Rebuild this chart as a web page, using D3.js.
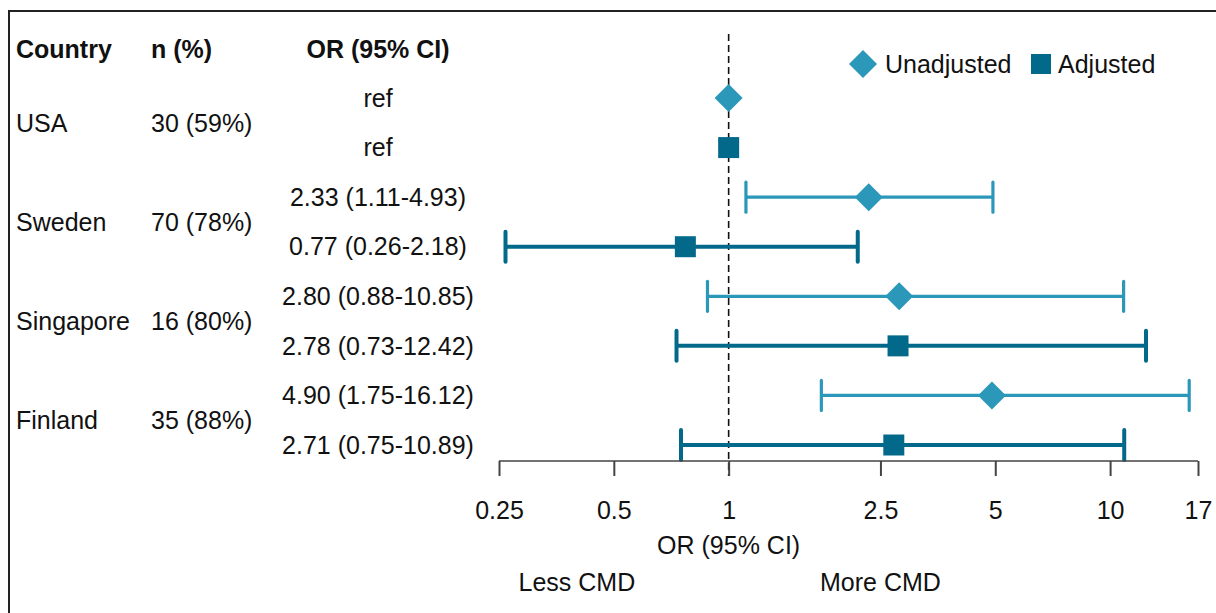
<!DOCTYPE html>
<html>
<head>
<meta charset="utf-8">
<script src="https://cdn.jsdelivr.net/npm/d3@7"></script>
<style>
  body { margin: 0; background: #fff; }
  text { font-family: "Liberation Sans", Arial, sans-serif; fill: #111; }
</style>
</head>
<body>
<div id="chart"></div>
<script>
var width = 1216,
    height = 613;

// data
var countries = ["USA", "Sweden", "Singapore", "Finland"];
var nPct = ["30 (59%)", "70 (78%)", "16 (80%)", "35 (88%)"];
var unadjOR = [1, 2.33, 2.80, 4.90];
var unadjLo = [null, 1.11, 0.88, 1.75];
var unadjHi = [null, 4.93, 10.85, 16.12];
var adjOR = [1, 0.77, 2.78, 2.71];
var adjLo = [null, 0.26, 0.73, 0.75];
var adjHi = [null, 2.18, 12.42, 10.89];
var tickValues = [0.25, 0.5, 1, 2.5, 5, 10, 17];
var tickLabels = ["0.25", "0.5", "1", "2.5", "5", "10", "17"];

var colUnadj = "#2b98b9",
    colAdj = "#02698a";
var fs = "25px";

function fmt(v) { return v.toFixed(2); }
function ciText(or, lo, hi) {
    if (lo == null) return "ref";
    return fmt(or) + " (" + fmt(lo) + "-" + fmt(hi) + ")";
}

// build rows: one per country and model
var rows = [];
countries.forEach(function(c, i) {
    rows.push({country: c, type: "unadj", or: unadjOR[i], lo: unadjLo[i], hi: unadjHi[i]});
    rows.push({country: c, type: "adj", or: adjOR[i], lo: adjLo[i], hi: adjHi[i]});
});

var svg = d3.select("#chart")
    .append("svg")
    .attr("width", width)
    .attr("height", height);

// frame
svg.append("path")
    .attr("d", "M9," + height + "V11H" + width)
    .style("fill", "none")
    .style("stroke", "#222")
    .style("stroke-width", 2);

var x = d3.scaleLog().domain([0.25, 17]).range([499, 1198]);
var y = d3.scaleLinear().domain([0, rows.length - 1]).range([98, 445]);

// header
var header = svg.append("g").style("font-weight", "bold").style("font-size", fs);
header.append("text").attr("x", 16).attr("y", 58).text("Country");
header.append("text").attr("x", 151).attr("y", 58).text("n (%)");
header.append("text").attr("x", 378).attr("y", 58).attr("text-anchor", "middle").text("OR (95% CI)");

// left table
var table = svg.append("g").style("font-size", fs);
countries.forEach(function(c, i) {
    var cy = (y(2 * i) + y(2 * i + 1)) / 2;
    table.append("text").attr("x", 16).attr("y", cy).attr("dy", "0.35em").text(c);
    table.append("text").attr("x", 151).attr("y", cy).attr("dy", "0.35em").text(nPct[i]);
});
table.selectAll(".ci")
    .data(rows)
    .enter().append("text")
    .attr("class", "ci")
    .attr("x", 378)
    .attr("y", function(d, i) { return y(i); })
    .attr("dy", "0.35em")
    .attr("text-anchor", "middle")
    .text(function(d) { return ciText(d.or, d.lo, d.hi); });

// reference line
svg.append("line")
    .attr("x1", x(1)).attr("x2", x(1))
    .attr("y1", 34).attr("y2", 476)
    .style("stroke", "#111")
    .style("stroke-width", 1.6)
    .style("stroke-dasharray", "7,4");

// error bars
var bars = svg.append("g").selectAll("g")
    .data(rows.map(function(d, i) { d.i = i; return d; }).filter(function(d) { return d.lo != null; }))
    .enter().append("g")
    .style("stroke", function(d) { return d.type == "unadj" ? colUnadj : colAdj; })
    .style("stroke-width", function(d) { return d.type == "unadj" ? 3.2 : 4; })
    .style("fill", "none");

bars.append("line")
    .attr("x1", function(d) { return x(d.lo); })
    .attr("x2", function(d) { return x(d.hi); })
    .attr("y1", function(d) { return y(d.i); })
    .attr("y2", function(d) { return y(d.i); });
bars.append("line")
    .attr("x1", function(d) { return x(d.lo); })
    .attr("x2", function(d) { return x(d.lo); })
    .attr("y1", function(d) { return y(d.i) - 15; })
    .attr("y2", function(d) { return y(d.i) + 15; })
    .style("stroke-linecap", "round");
bars.append("line")
    .attr("x1", function(d) { return x(d.hi); })
    .attr("x2", function(d) { return x(d.hi); })
    .attr("y1", function(d) { return y(d.i) - 15; })
    .attr("y2", function(d) { return y(d.i) + 15; })
    .style("stroke-linecap", "round");

// point markers
var diamond = "M0,-14L14,0L0,14L-14,0Z";
var square = "M-10.5,-10.5H10.5V10.5H-10.5Z";
svg.append("g").selectAll("path")
    .data(rows)
    .enter().append("path")
    .attr("d", function(d) { return d.type == "unadj" ? diamond : square; })
    .attr("transform", function(d, i) { return "translate(" + x(d.or) + "," + y(i) + ")"; })
    .style("fill", function(d) { return d.type == "unadj" ? colUnadj : colAdj; });

// axis
var axis = d3.axisBottom(x)
    .tickValues(tickValues)
    .tickFormat(function(d, i) { return tickLabels[i]; })
    .tickSize(15)
    .tickPadding(25);
var gAxis = svg.append("g")
    .attr("transform", "translate(0,461)")
    .call(axis);
gAxis.select(".domain").style("stroke", "#444").style("stroke-width", 1.6)
    .attr("d", "M" + x(0.25) + ",0H" + x(17));
gAxis.selectAll(".tick line").style("stroke", "#444").style("stroke-width", 2);
gAxis.selectAll(".tick text")
    .style("font-size", fs)
    .style("font-family", "'Liberation Sans', Arial, sans-serif")
    .style("fill", "#111");

svg.append("text")
    .attr("x", x(1)).attr("y", 554)
    .attr("text-anchor", "middle")
    .style("font-size", fs)
    .text("OR (95% CI)");
svg.append("text")
    .attr("x", x(0.4)).attr("y", 591)
    .attr("text-anchor", "middle")
    .style("font-size", fs)
    .text("Less CMD");
svg.append("text")
    .attr("x", x(2.5)).attr("y", 591)
    .attr("text-anchor", "middle")
    .style("font-size", fs)
    .text("More CMD");

// legend
var legend = svg.append("g").attr("transform", "translate(863,64)").style("font-size", fs);
legend.append("path").attr("d", diamond).style("fill", colUnadj);
legend.append("text").attr("x", 22).attr("dy", "0.35em").text("Unadjusted");
legend.append("path").attr("d", "M-10,-10H10V10H-10Z")
    .attr("transform", "translate(178,0)").style("fill", colAdj);
legend.append("text").attr("x", 195).attr("dy", "0.35em").text("Adjusted");
</script>
</body>
</html>
